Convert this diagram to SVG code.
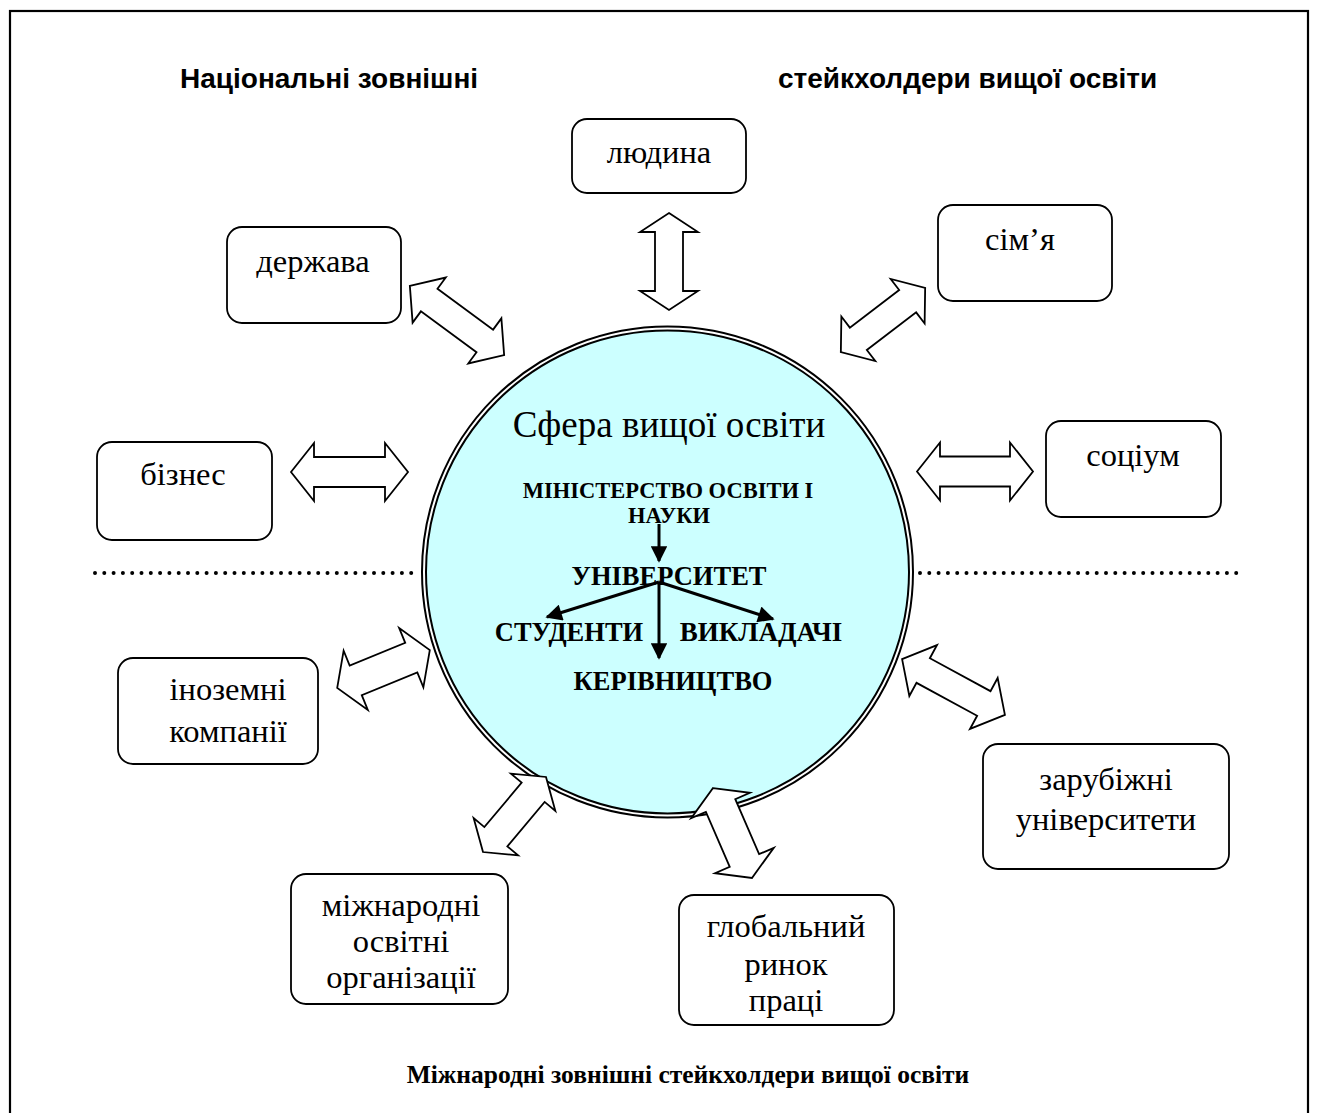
<svg xmlns="http://www.w3.org/2000/svg" width="1318" height="1113" viewBox="0 0 1318 1113">
<defs>
<style>
.box{fill:#fff;stroke:#000;stroke-width:1.8}
.bt{font-family:"Liberation Serif","Times New Roman",serif;font-size:32.5px;text-anchor:middle;fill:#000}
.arr{fill:#fff;stroke:#000;stroke-width:1.8;stroke-linejoin:miter}
.hd{font-family:"Liberation Sans",Arial,sans-serif;font-size:28px;font-weight:bold;fill:#000}
.ct{font-family:"Liberation Serif","Times New Roman",serif;font-weight:bold;text-anchor:middle;fill:#000}
.dot{stroke:#000;stroke-width:4;stroke-linecap:round;stroke-dasharray:0 9.3;fill:none}
.ln{stroke:#000;stroke-width:3;fill:none}
</style>
<marker id="ah" viewBox="0 0 10 10" refX="9" refY="5" markerWidth="6" markerHeight="5.5" orient="auto" markerUnits="strokeWidth">
<path d="M0,0 L10,5 L0,10 Z" fill="#000"/>
</marker>
</defs>
<rect width="1318" height="1113" fill="#fff"/>
<rect x="10" y="11" width="1298" height="1130" fill="none" stroke="#000" stroke-width="2.2"/>

<text class="hd" x="180" y="88">Національні зовнішні</text>
<text class="hd" x="778" y="88">стейкхолдери вищої освіти</text>

<g id="dotted">
<line class="dot" x1="95" y1="573" x2="418" y2="573"/>
<line class="dot" x1="920" y1="573" x2="1238" y2="573"/>
</g>

<g id="center">
<circle cx="667.5" cy="572" r="243.5" fill="#ccffff" stroke="#000" stroke-width="6"/>
<circle cx="667.5" cy="572" r="243.5" fill="none" stroke="#fff" stroke-width="2"/>
<text class="ct" x="669" y="437" font-size="37" style="font-weight:normal">Сфера вищої освіти</text>
<text class="ct" x="668" y="498" font-size="22.5">МІНІСТЕРСТВО ОСВІТИ І</text>
<text class="ct" x="669" y="523" font-size="22.5">НАУКИ</text>
<text class="ct" x="669" y="585" font-size="26.5">УНІВЕРСИТЕТ</text>
<text class="ct" x="569" y="641" font-size="26.5">СТУДЕНТИ</text>
<text class="ct" x="761" y="641" font-size="27">ВИКЛАДАЧІ</text>
<text class="ct" x="673" y="690" font-size="26.5">КЕРІВНИЦТВО</text>
</g>

<g id="inner-connectors">
<line class="ln" x1="659" y1="524" x2="659" y2="561" marker-end="url(#ah)"/>
<line class="ln" x1="659" y1="582" x2="547" y2="617" marker-end="url(#ah)"/>
<line class="ln" x1="659" y1="582" x2="773" y2="619" marker-end="url(#ah)"/>
<line class="ln" x1="659" y1="582" x2="659" y2="658" marker-end="url(#ah)"/>
</g>

<g id="connectors">
<polygon class="arr" transform="translate(457,320.5) rotate(36.3)" points="-58.5,0 -34.5,-28 -34.5,-14 34.5,-14 34.5,-28 58.5,0 34.5,28 34.5,14 -34.5,14 -34.5,28"/>
<polygon class="arr" transform="translate(349.5,472)" points="-58.5,0 -35.5,-29 -35.5,-15 35.5,-15 35.5,-29 58.5,0 35.5,29 35.5,15 -35.5,15 -35.5,29"/>
<polygon class="arr" transform="translate(669,261.5) rotate(90)" points="-48.5,0 -29.5,-29 -29.5,-14 29.5,-14 29.5,-29 48.5,0 29.5,29 29.5,14 -29.5,14 -29.5,29"/>
<polygon class="arr" transform="translate(883,320) rotate(-37.3)" points="-53,0 -31,-28 -31,-14 31,-14 31,-28 53,0 31,28 31,14 -31,14 -31,28"/>
<polygon class="arr" transform="translate(975,471.5)" points="-58,0 -35,-29 -35,-15 35,-15 35,-29 58,0 35,29 35,15 -35,15 -35,29"/>
<polygon class="arr" transform="translate(383.5,669) rotate(-22.2)" points="-50,0 -30,-32 -30,-16 30,-16 30,-32 50,0 30,32 30,16 -30,16 -30,32"/>
<polygon class="arr" transform="translate(514.5,814.5) rotate(-50)" points="-49,0 -29,-29 -29,-15 29,-15 29,-29 49,0 29,29 29,15 -29,15 -29,29"/>
<polygon class="arr" transform="translate(732.5,833) rotate(66.6)" points="-49,0 -30,-32 -30,-16 30,-16 30,-32 49,0 30,32 30,16 -30,16 -30,32"/>
<polygon class="arr" transform="translate(953.5,687) rotate(28.5)" points="-58.5,0 -34.5,-29 -34.5,-14 34.5,-14 34.5,-29 58.5,0 34.5,29 34.5,14 -34.5,14 -34.5,29"/>
</g>

<g id="lyudyna"><rect class="box" x="572" y="119" width="174" height="74" rx="15"/><text class="bt" x="659" y="163">людина</text></g>
<g id="derzhava"><rect class="box" x="227" y="227" width="174" height="96" rx="15"/><text class="bt" x="313" y="272">держава</text></g>
<g id="simya"><rect class="box" x="938" y="205" width="174" height="96" rx="15"/><text class="bt" x="1020" y="250">сім’я</text></g>
<g id="biznes"><rect class="box" x="97" y="442" width="175" height="98" rx="15"/><text class="bt" x="183" y="485">бізнес</text></g>
<g id="sotsium"><rect class="box" x="1046" y="421" width="175" height="96" rx="15"/><text class="bt" x="1133" y="466">соціум</text></g>
<g id="inozemni"><rect class="box" x="118" y="658" width="200" height="106" rx="15"/><text class="bt" x="228" y="700">іноземні</text><text class="bt" x="228" y="742">компанії</text></g>
<g id="mizhnarodni"><rect class="box" x="291" y="874" width="217" height="130" rx="15"/><text class="bt" x="401" y="916">міжнародні</text><text class="bt" x="401" y="952">освітні</text><text class="bt" x="401" y="988">організації</text></g>
<g id="hlobalnyi"><rect class="box" x="679" y="895" width="215" height="130" rx="15"/><text class="bt" x="786" y="937">глобальний</text><text class="bt" x="786" y="975">ринок</text><text class="bt" x="786" y="1011">праці</text></g>
<g id="zarubizhni"><rect class="box" x="983" y="744" width="246" height="125" rx="15"/><text class="bt" x="1106" y="790">зарубіжні</text><text class="bt" x="1106" y="830">університети</text></g>

<text class="ct" x="688" y="1083" font-size="25.5">Міжнародні зовнішні стейкхолдери вищої освіти</text>
</svg>
